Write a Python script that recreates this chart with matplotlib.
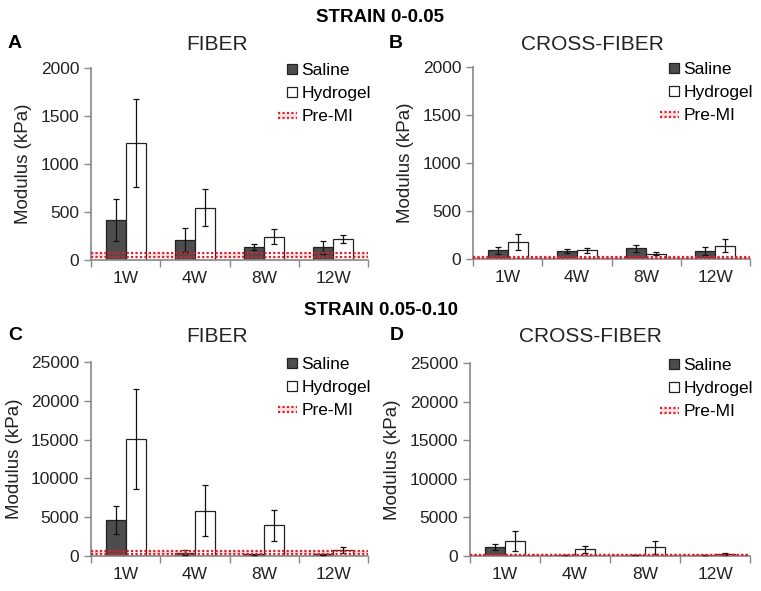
import matplotlib
matplotlib.use("Agg")
from matplotlib import pyplot as plt
from matplotlib.patches import Rectangle
from matplotlib.lines import Line2D
from matplotlib.legend_handler import HandlerBase
import numpy as np

plt.rcParams['font.family'] = ['Liberation Sans', 'DejaVu Sans']

weeks = ['1W', '4W', '8W', '12W']

# strain 0-0.05, fiber
a_saline = [417, 209, 132, 132]
a_saline_err = [215, 125, 30, 65]
a_hydro = [1220, 546, 243, 219]
a_hydro_err = [460, 190, 77, 45]
a_pre = [35, 75]

# strain 0-0.05, cross-fiber
b_saline = [90, 80, 111, 83]
b_saline_err = [35, 20, 35, 40]
b_hydro = [176, 90, 55, 138]
b_hydro_err = [80, 25, 15, 70]
b_pre = [10, 22]

# strain 0.05-0.10, fiber
c_saline = [4630, 420, 250, 200]
c_saline_err = [1850, 300, 60, 100]
c_hydro = [15100, 5830, 3990, 770]
c_hydro_err = [6450, 3300, 2000, 350]
c_pre = [220, 600]

# strain 0.05-0.10, cross-fiber
d_saline = [1120, 130, 130, 130]
d_saline_err = [400, 40, 40, 40]
d_hydro = [1950, 865, 1125, 260]
d_hydro_err = [1300, 450, 820, 80]
d_pre = [90, 170]


class SquareHandler(HandlerBase):
    def __init__(self, fc):
        super().__init__()
        self.fc = fc

    def create_artists(self, legend, orig_handle, xdescent, ydescent, width, height, fontsize, trans):
        s = fontsize * 0.55
        r = Rectangle((width - s - xdescent, -ydescent + (height - s) / 2), s, s,
                      facecolor=self.fc, edgecolor='#222222', lw=0.9, transform=trans)
        return [r]


class PreHandler(HandlerBase):
    def create_artists(self, legend, orig_handle, xdescent, ydescent, width, height, fontsize, trans):
        y1 = -ydescent + height * 0.25
        y2 = -ydescent + height * 0.7
        f = Rectangle((-xdescent, y1), width, y2 - y1, facecolor='#f8e4e4', edgecolor='none', transform=trans)
        l1 = Line2D([-xdescent, width - xdescent], [y1, y1], color='#e0202a', lw=1.6, ls=(0, (1, 1)), transform=trans)
        l2 = Line2D([-xdescent, width - xdescent], [y2, y2], color='#e0202a', lw=1.6, ls=(0, (1, 1)), transform=trans)
        return [f, l1, l2]


def panel(ax, saline, saline_err, hydro, hydro_err, pre, ymax, step):
    x = np.arange(len(weeks))
    w = 0.29
    ax.axhspan(pre[0], pre[1], color='#f8e4e4', zorder=1, lw=0)
    ax.bar(x - w / 2, saline, w, color='#4d4d4d', edgecolor='#222222', lw=0.9, zorder=2)
    ax.bar(x + w / 2, hydro, w, color='white', edgecolor='#222222', lw=0.9, zorder=2)
    ax.errorbar(x - w / 2, saline, yerr=saline_err, fmt='none', ecolor='#111111', elinewidth=0.9, capsize=2.5, capthick=0.9, zorder=3)
    ax.errorbar(x + w / 2, hydro, yerr=hydro_err, fmt='none', ecolor='#111111', elinewidth=0.9, capsize=2.5, capthick=0.9, zorder=3)
    for p in pre:
        ax.axhline(p, color='#e0202a', lw=1.6, ls=(0, (1, 1)), zorder=4)
    ax.set_xlim(-0.5, len(weeks) - 0.5)
    ax.set_ylim(0, ymax)
    ax.set_yticks(np.arange(0, ymax + 1, step))
    ax.set_xticks(x)
    ax.set_xticklabels(weeks)
    ax.set_xticks(np.arange(-0.5, len(weeks), 1), minor=True)
    ax.tick_params(axis='x', which='major', length=0, labelsize=12.5, pad=8, colors='#222222')
    ax.tick_params(axis='x', which='minor', length=5, color='#888888', width=1)
    ax.tick_params(axis='y', length=5, color='#888888', width=1, labelsize=12.5, colors='#222222')
    for s in ['top', 'right']:
        ax.spines[s].set_visible(False)
    for s in ['left', 'bottom']:
        ax.spines[s].set_color('#888888')
        ax.spines[s].set_linewidth(1.2)
    ax.set_ylabel('Modulus (kPa)', fontsize=13.5, color='#222222', labelpad=6)
    hs = [Rectangle((0, 0), 1, 1), Rectangle((0, 0), 1, 1), Line2D([], [])]
    ax.legend(hs, ['Saline', 'Hydrogel', 'Pre-MI'], loc='upper right', frameon=False,
              handler_map={hs[0]: SquareHandler('#4d4d4d'), hs[1]: SquareHandler('white'), hs[2]: PreHandler()},
              fontsize=12.5, handlelength=1.1, handletextpad=0.25, labelspacing=0.45,
              borderaxespad=0.0, borderpad=0.0, bbox_to_anchor=(1.01, 1.025))


fig = plt.figure(figsize=(7.61, 5.91), dpi=100)
axA = fig.add_axes([0.1196, 0.560, 0.364, 0.325])
axB = fig.add_axes([0.6216, 0.5618, 0.364, 0.325])
axC = fig.add_axes([0.1196, 0.0592, 0.364, 0.3283])
axD = fig.add_axes([0.6176, 0.0592, 0.368, 0.3266])

panel(axA, a_saline, a_saline_err, a_hydro, a_hydro_err, a_pre, 2000, 500)
panel(axB, b_saline, b_saline_err, b_hydro, b_hydro_err, b_pre, 2000, 500)
panel(axC, c_saline, c_saline_err, c_hydro, c_hydro_err, c_pre, 25000, 5000)
panel(axD, d_saline, d_saline_err, d_hydro, d_hydro_err, d_pre, 25000, 5000)

fig.text(0.5, 1 - 17 / 591, 'STRAIN 0-0.05', ha='center', va='center', fontsize=13.5, fontweight='bold')
fig.text(0.5, 1 - 311 / 591, 'STRAIN 0.05-0.10', ha='center', va='center', fontsize=13.5, fontweight='bold')
for lab, xp, yp in [('A', 8, 44), ('B', 389, 44), ('C', 8, 336), ('D', 390, 336)]:
    fig.text(xp / 761, 1 - yp / 591, lab, ha='left', va='center', fontsize=14, fontweight='bold')
for t, xp, yp in [('FIBER', 217, 44), ('CROSS-FIBER', 592, 44), ('FIBER', 217, 337), ('CROSS-FIBER', 590, 337)]:
    fig.text(xp / 761, 1 - yp / 591, t, ha='center', va='center', fontsize=15, color='#222222')

plt.savefig('out.png', dpi=100)
